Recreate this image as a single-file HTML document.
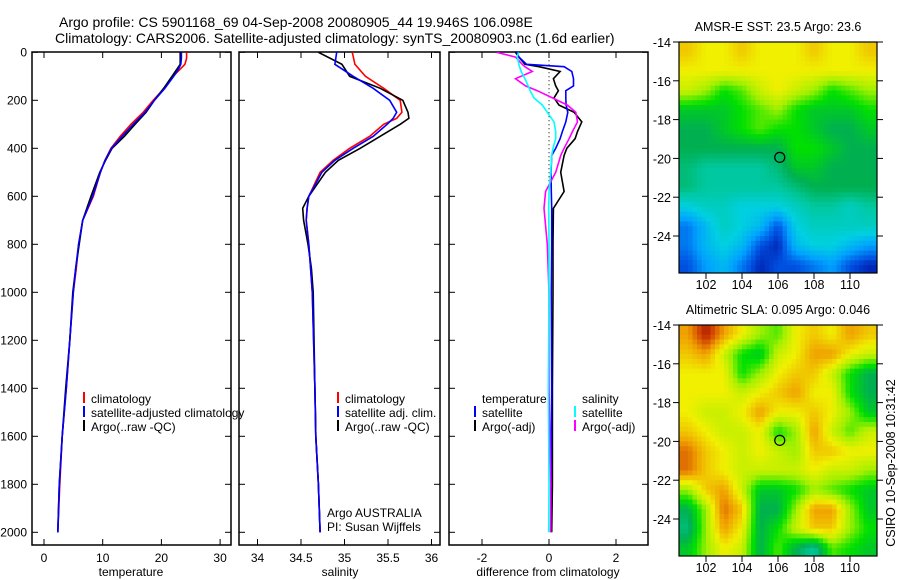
<!DOCTYPE html>
<html><head><meta charset="utf-8"><style>
body{margin:0;background:#fff;}
svg{display:block;font-family:"Liberation Sans",sans-serif;}
</style></head><body>
<svg id="fig" width="900" height="580" viewBox="0 0 900 580" xmlns="http://www.w3.org/2000/svg">
<defs>
<clipPath id="c1"><rect x="679" y="42" width="198" height="231"/></clipPath>
<clipPath id="c2"><rect x="679" y="325" width="198" height="231"/></clipPath>
<clipPath id="p1"><rect x="32" y="52" width="199" height="493"/></clipPath>
<clipPath id="p2"><rect x="239" y="52" width="201" height="493"/></clipPath>
<clipPath id="p3"><rect x="449" y="52" width="199" height="493"/></clipPath>
</defs>
<text x="59" y="27" font-size="14">Argo profile: CS 5901168_69 04-Sep-2008 20080905_44 19.946S 106.098E</text>
<text x="55" y="43" font-size="14">Climatology: CARS2006. Satellite-adjusted climatology: synTS_20080903.nc (1.6d earlier)</text>
<g id="g"></g>
</svg>
<script>
// ---- profile data ----
const depthT = [0,25,50,75,100,150,200,250,300,350,400,450,500,600,700,800,900,1000,1200,1400,1600,1800,2000];
const tClim = [24.3,24.3,24.0,23.0,22.0,20.5,18.6,16.9,14.8,13.0,11.4,10.4,9.6,8.4,6.6,5.9,5.5,5.0,4.4,3.8,3.1,2.7,2.35];
const tSat  = [23.4,23.4,23.3,22.8,22.1,20.6,18.8,17.2,15.2,13.3,11.5,10.4,9.6,8.3,6.6,5.9,5.4,5.0,4.4,3.8,3.1,2.6,2.35];
const tArgo = [23.2,23.2,23.2,22.5,21.8,20.4,18.8,17.4,15.5,13.7,11.6,10.5,9.5,8.0,6.6,6.0,5.4,4.9,4.4,3.7,3.1,2.6,2.35];
const depthS = [0,50,100,150,200,250,275,300,350,400,450,500,600,650,700,800,900,1000,1400,1600,1800,2000];
const sClim = [35.09,35.12,35.24,35.45,35.64,35.66,35.6,35.45,35.29,35.06,34.87,34.72,34.59,34.57,34.56,34.59,34.61,34.63,34.66,34.67,34.70,34.72];
const sSat  = [34.91,34.89,35.10,35.33,35.52,35.60,35.56,35.49,35.33,35.10,34.89,34.74,34.59,34.57,34.56,34.59,34.61,34.63,34.66,34.67,34.70,34.72];
const sArgo = [34.70,34.97,35.06,35.41,35.67,35.73,35.74,35.64,35.41,35.18,34.93,34.78,34.59,34.52,34.53,34.58,34.62,34.64,34.66,34.67,34.70,34.72];
const depthD = [0,20,50,60,80,110,140,160,190,220,250,290,330,360,400,430,500,580,650,800,1000,1400,1800,2000];
const dTSat  = [-0.96,-0.9,-0.67,0.45,0.68,0.73,0.73,0.5,0.5,0.51,0.56,0.5,0.4,0.33,0.2,0.08,0.06,0.07,0.08,0.08,0.07,0.08,0.06,0.05];
const dTArgo = [-1.0,-0.9,-0.72,-0.3,0.33,0.13,0.2,0.28,0.15,0.3,0.75,0.98,0.85,0.78,0.53,0.45,0.35,0.45,0.13,0.12,0.12,0.1,0.1,0.08];
const dSSat  = [-0.91,-0.95,-0.9,-0.88,-0.83,-0.72,-0.62,-0.56,-0.45,-0.2,-0.05,0.15,0.2,0.2,0.12,0.08,0.05,0.0,-0.01,0.0,0.0,-0.02,0.0,-0.01];
const dSArgo = [-1.56,-1.0,-0.8,-0.72,-0.5,-1.0,-0.7,-0.35,0.1,0.55,0.8,0.85,0.7,0.6,0.45,0.35,0.2,-0.1,-0.15,-0.05,0.0,0.0,0.05,0.05];
const depthTicks = [0,200,400,600,800,1000,1200,1400,1600,1800,2000];
const tTicks = [0,10,20,30];
const sTicks = [34,34.5,35,35.5,36];
const sTickLabels = ["34","34.5","35","35.5","36"];
const dTicks = [-2,0,2];
// ---- map data (colour index 0..11 on 1-degree grid, lat 14..26, lon 100.5..111.5) ----
const sstGrid = [
[8.5,8,8,8.5,8,8,8,8.5,8,8,8.5],
[8,8,8,8,8,8,8,8,8,8,8],
[7.5,7,6,6.5,7.5,8,7.5,7,6,6.5,7],
[5.5,5.5,5.5,6,6.5,7,6,5.5,5.5,5.5,6],
[5,5,5.5,6,6.5,6,6,5.5,5,5,5.5],
[5,5,5,5,5,5,6,6,5.5,5,5],
[4.5,4,4,4,4,4.5,5.5,5.5,5,5,5],
[4.5,4,4,4,4,4,4.5,5,5,5,5],
[3,3.5,3.5,3,3,3,3.5,4,4,3.5,4],
[1.5,2.5,3.5,3,2.5,1,3,3.5,3.5,3.5,3.5],
[1.5,2.5,3,2.5,1,0.5,2.5,3,3,2.5,2],
[1,2,2.5,1.5,0.5,1,1,1.5,2,1,0.5]];
const slaGrid = [
[9,10.5,9,8,7,6.5,8,8.5,8,9,8.5],
[8.5,9,7.5,6,5.5,7.5,8,9,9,8,7.5],
[8,8,8,6,7,8,8.5,8.5,7.5,6,5],
[8,8,8,7.5,8,8.5,9,8,8,6,5],
[8,7.5,7.5,8,9,8,8,8.5,8,7,5.5],
[8.5,8,7.5,7.5,8,6,7,9,7.5,6.5,7.5],
[9.5,8.5,8,7.5,8,7.5,7,8.5,8.5,8,8],
[9.5,8.5,8,7.5,7.5,7.5,7.5,8,7.5,7.5,7],
[7,8.5,9,7.5,5.5,5.5,6,7,6.5,6,5.5],
[5,7,9.5,8.5,5,5,7,9,9,7,5.5],
[4.5,7,9,8,5,6,7.5,8.5,8.5,7,6],
[5.5,7,8,7.5,5,6.5,5,4,6.5,6,5.5]];
const latTicks = [14,16,18,20,22,24];
const lonTicks = [102,104,106,108,110];
const argoLon = 106.098, argoLat = 19.946;

const NS="http://www.w3.org/2000/svg";
const G=document.getElementById('g');
function mk(tag,attrs,parent,txt){const e=document.createElementNS(NS,tag);for(const k in attrs)e.setAttribute(k,attrs[k]);if(txt!==undefined)e.textContent=txt;(parent||G).appendChild(e);return e;}
const yD = d => 52.3 + 0.24*d;
const xT = t => 44 + 5.87*t;
const xS = s => 257.5 + 87*(s-34);
const xDf = v => 549 + 33.5*v;

function frame(x0,x1,name){
  const r=mk('rect',{x:x0,y:52,width:x1-x0,height:493,fill:'none',stroke:'#000','stroke-width':1.5});
  
  
  depthTicks.forEach(d=>{
    mk('line',{x1:x0,x2:x0+6,y1:yD(d),y2:yD(d),stroke:'#000'});
    mk('line',{x1:x1,x2:x1-6,y1:yD(d),y2:yD(d),stroke:'#000'});
  });
}
function xaxis(ticks,labels,fx,title,cx){
  ticks.forEach((t,i)=>{
    mk('line',{x1:fx(t),x2:fx(t),y1:545,y2:539,stroke:'#000'});
    mk('line',{x1:fx(t),x2:fx(t),y1:52,y2:58,stroke:'#000'});
    const e=mk('text',{x:fx(t),y:562,'font-size':12,'text-anchor':'middle'},G,labels[i]);
    
    
  });
  const e=mk('text',{x:cx,y:576,'font-size':12,'text-anchor':'middle'},G,title);
  
  
}
function line(xs,ds,fx,color,clip,name){
  const pts=xs.map((v,i)=>fx(v).toFixed(1)+','+yD(ds[i]).toFixed(1)).join(' ');
  const e=mk('polyline',{points:pts,fill:'none',stroke:color,'stroke-width':1.6,'clip-path':'url(#'+clip+')'});
  
  
}
function legend(x,y,color,txt){
  mk('line',{x1:x,x2:x,y1:y-11,y2:y,stroke:color,'stroke-width':2});
  const e=mk('text',{x:x+7,y:y,'font-size':12},G,txt);
  
  
}

// panel 1
frame(32,231,'temperature-panel');
depthTicks.forEach(d=>{const e=mk('text',{x:27,y:yD(d)+4,'font-size':12,'text-anchor':'end'},G,String(d));
  
  });
xaxis(tTicks,tTicks.map(String),xT,'temperature',131);
line(tClim,depthT,xT,'#f00','p1','temp-climatology-line');
line(tArgo,depthT,xT,'#000','p1','temp-argo-line');
line(tSat,depthT,xT,'#00f','p1','temp-satellite-line');
legend(84,403,'#f00','climatology');
legend(84,417,'#00f','satellite-adjusted climatology');
legend(84,431,'#000','Argo(..raw -QC)');
// panel 2
frame(239,440,'salinity-panel');
xaxis(sTicks,sTickLabels,xS,'salinity',340);
line(sClim,depthS,xS,'#f00','p2','sal-climatology-line');
line(sArgo,depthS,xS,'#000','p2','sal-argo-line');
line(sSat,depthS,xS,'#00f','p2','sal-satellite-line');
legend(338,403,'#f00','climatology');
legend(338,417,'#00f','satellite adj. clim.');
legend(338,431,'#000','Argo(..raw -QC)');
mk('text',{x:327,y:517,'font-size':12},G,'Argo AUSTRALIA');
mk('text',{x:327,y:531,'font-size':12},G,'PI: Susan Wijffels');
// panel 3
frame(449,648,'difference-panel');
xaxis(dTicks,dTicks.map(String),xDf,'difference from climatology',548);
mk('line',{x1:xDf(0),x2:xDf(0),y1:yD(0),y2:yD(2000),stroke:'#000','stroke-dasharray':'1,3'});
line(dTArgo,depthD,xDf,'#000','p3','diff-temp-argo-line');
line(dTSat,depthD,xDf,'#00f','p3','diff-temp-satellite-line');
line(dSArgo,depthD,xDf,'#f0f','p3','diff-sal-argo-line');
line(dSSat,depthD,xDf,'#0ff','p3','diff-sal-satellite-line');
mk('text',{x:482,y:403,'font-size':12},G,'temperature');
mk('text',{x:582,y:403,'font-size':12},G,'salinity');
legend(475,417,'#00f','satellite');
legend(475,431,'#000','Argo(-adj)');
legend(575,417,'#0ff','satellite');
legend(575,431,'#f0f','Argo(-adj)');

// maps
const stops=['#00008f','#0050e0','#00a0ff','#00d0e0','#00c8a0','#00b050','#00e000','#a0f000','#f0f000','#f0a000','#d04000','#900000'];
function hex(c){return [1,3,5].map(i=>parseInt(c.substr(i,2),16));}
function col(v){v=Math.max(0,Math.min(11,v));const i=Math.floor(v),f=v-i;const a=hex(stops[i]),b=hex(stops[Math.min(11,i+1)]);
  return 'rgb('+a.map((x,k)=>Math.round(x+(b[k]-x)*f)).join(',')+')';}
function sample(grid,r,c){ // bilinear in cell-centre coordinates
  const R=grid.length,C=grid[0].length;
  r=Math.max(0,Math.min(R-1,r)); c=Math.max(0,Math.min(C-1,c));
  const r0=Math.floor(r),c0=Math.floor(c),r1=Math.min(R-1,r0+1),c1=Math.min(C-1,c0+1),fr=r-r0,fc=c-c0;
  return grid[r0][c0]*(1-fr)*(1-fc)+grid[r0][c1]*(1-fr)*fc+grid[r1][c0]*fr*(1-fc)+grid[r1][c1]*fr*fc;
}
function map(grid,top,clip,title,name){
  const xL=lon=>679+(lon-100.5)*18, yL=lat=>top+(lat-14)*19.4;
  const g=mk('g',{'clip-path':'url(#'+clip+')'});
  
  
  const sub=4, R=grid.length, C=grid[0].length;
  for(let i=0;i<R*sub;i++)for(let j=0;j<C*sub;j++){
    const v=sample(grid,(i+0.5)/sub-0.5,(j+0.5)/sub-0.5);
    const e=mk('rect',{x:(xL(100.5+j/sub)).toFixed(2),y:(yL(14+i/sub)).toFixed(2),width:18/sub+0.4,height:19.4/sub+0.4,fill:col(v)},g);
    
    
  }
  mk('rect',{x:679,y:top,width:198,height:231,fill:'none',stroke:'#000','stroke-width':1.2});
  latTicks.forEach(l=>{mk('line',{x1:679,x2:673,y1:yL(l),y2:yL(l),stroke:'#000'});
    mk('line',{x1:877,x2:883,y1:yL(l),y2:yL(l),stroke:'#000'});
    mk('text',{x:671,y:yL(l)+5,'font-size':12.5,'text-anchor':'end'},G,'-'+l);});
  lonTicks.forEach(l=>{mk('line',{x1:xL(l),x2:xL(l),y1:top+231,y2:top+237,stroke:'#000'});
    mk('text',{x:xL(l),y:top+247,'font-size':12.5,'text-anchor':'middle'},G,String(l));});
  mk('circle',{cx:xL(argoLon),cy:yL(argoLat),r:5,fill:'none',stroke:'#000','stroke-width':1.2});
  const t=mk('text',{x:778,y:top-11,'font-size':12.5,'text-anchor':'middle'},G,title);
  
  
}
map(sstGrid,42,'c1','AMSR-E SST: 23.5 Argo: 23.6','sst-map');
map(slaGrid,325,'c2','Altimetric SLA: 0.095 Argo: 0.046','sla-map');
const st=mk('text',{x:0,y:0,'font-size':12.5,'text-anchor':'middle',transform:'translate(895,463) rotate(-90)'},G,'CSIRO 10-Sep-2008 10:31:42');


</script>
</body></html>
